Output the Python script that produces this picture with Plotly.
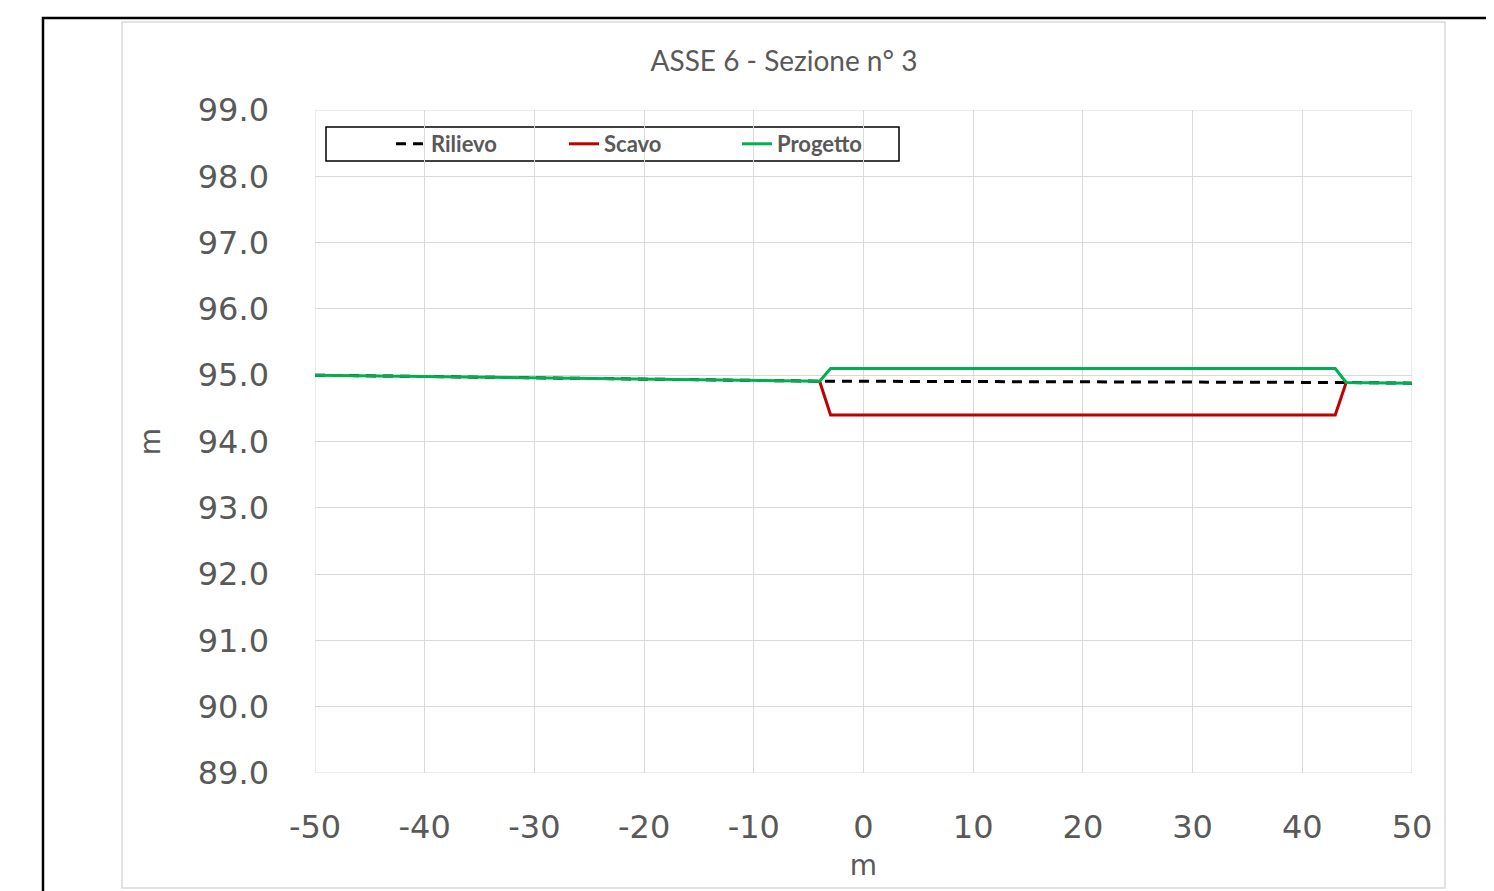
import plotly.graph_objects as go

# Data
rilievo_x = [-50, -40, -30, -20, -10, -4, 44, 50]
rilievo_y = [95.00, 94.98, 94.96, 94.94, 94.92, 94.91, 94.89, 94.88]

scavo_x = [-4, -3, 43, 44]
scavo_y = [94.91, 94.40, 94.40, 94.89]

progetto_x = [-50, -40, -30, -20, -10, -4, -3, 43, 44, 50]
progetto_y = [95.00, 94.98, 94.96, 94.94, 94.92, 94.91, 95.10, 95.10, 94.89, 94.88]

x_ticks = [-50, -40, -30, -20, -10, 0, 10, 20, 30, 40, 50]
y_ticks = [89, 90, 91, 92, 93, 94, 95, 96, 97, 98, 99]

# page has an 8px body margin; figure coordinates below are in page pixels
OFF = 8
W, H = 1494 - OFF, 891 - OFF
PL, PR, PT, PB = 315, 1412, 110, 773  # plot area in page pixels
PW, PH = PR - PL, PB - PT


def px(x):
    return (x - PL) / PW


def py(y):
    return (PB - y) / PH


fig = go.Figure()
fig.add_trace(go.Scatter(x=rilievo_x, y=rilievo_y, mode="lines", name="Rilievo",
                         line=dict(color="black", width=3, dash="10px,7px")))
fig.add_trace(go.Scatter(x=scavo_x, y=scavo_y, mode="lines", name="Scavo",
                         line=dict(color="#c00000", width=3)))
fig.add_trace(go.Scatter(x=progetto_x, y=progetto_y, mode="lines", name="Progetto",
                         line=dict(color="#00b050", width=3)))

tick_font = dict(family="DejaVu Sans", size=32, color="#595959")

fig.update_layout(
    width=W, height=H,
    margin=dict(l=PL - OFF, r=W - (PR - OFF), t=PT - OFF, b=H - (PB - OFF), autoexpand=False),
    paper_bgcolor="white", plot_bgcolor="white",
    title=dict(text="ASSE 6 - Sezione n° 3", x=(784 - OFF) / W, xanchor="center",
               y=1 - (61 - OFF) / H, yanchor="middle",
               font=dict(family="Lato", size=28, color="#595959")),
    xaxis=dict(range=[-50, 50], tickvals=x_ticks, ticktext=[str(v) for v in x_ticks],
               showgrid=True, gridcolor="#d9d9d9", gridwidth=1, zeroline=False,
               showline=False, tickfont=tick_font, ticks="", ticklen=0,
               ticklabelstandoff=32,
               title=dict(text="m", font=dict(family="DejaVu Sans", size=28, color="#595959"),
                          standoff=10)),
    yaxis=dict(range=[89, 99], tickvals=y_ticks, ticktext=[f"{v:.1f}" for v in y_ticks],
               showgrid=True, gridcolor="#d9d9d9", gridwidth=1, zeroline=False,
               showline=False, tickfont=tick_font, ticks="", ticklen=0,
               ticklabelstandoff=45,
               title=dict(text="m", font=dict(family="DejaVu Sans", size=28, color="#595959"),
                          standoff=28)),
    legend=dict(orientation="h", x=px(391), y=py(144),
                xanchor="left", yanchor="middle", bgcolor="rgba(0,0,0,0)",
                borderwidth=0,
                font=dict(family="Lato", size=22, color="#595959", weight="bold"),
                entrywidth=128, entrywidthmode="pixels"),
    showlegend=True,
    shapes=[
        dict(type="rect", xref="paper", yref="paper",
             x0=px(43), x1=px(1510), y0=py(910), y1=py(18),
             line=dict(color="black", width=2.5), layer="below"),
        dict(type="rect", xref="paper", yref="paper",
             x0=px(122), x1=px(1445), y0=py(888), y1=py(22),
             line=dict(color="#d9d9d9", width=1.5), layer="below"),
        dict(type="rect", xref="x", yref="y", x0=-50, x1=50, y0=89, y1=99,
             line=dict(color="#d9d9d9", width=1), layer="below"),
        dict(type="rect", xref="paper", yref="paper",
             x0=px(326), x1=px(899), y0=py(161), y1=py(127),
             line=dict(color="black", width=1.5), fillcolor="white", layer="below"),
    ],
)

fig.write_html("out.html")
